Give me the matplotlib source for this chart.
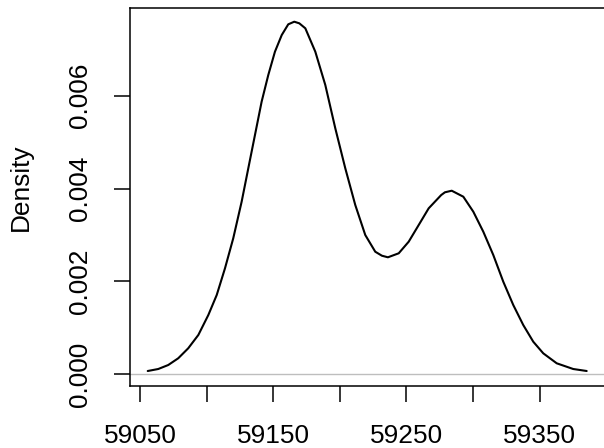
import matplotlib
matplotlib.use("Agg")
import matplotlib.pyplot as plt

# Density curve points
x_vals = [59055.8, 59063.7, 59071.2, 59078.7, 59086.2, 59093.8, 59101.3, 59107.6,
          59113.8, 59120.0, 59126.3, 59131.3, 59136.3, 59141.3, 59146.3, 59151.3,
          59156.4, 59161.3, 59165.8, 59169.6, 59174.1, 59181.6, 59189.1, 59196.6,
          59204.1, 59211.6, 59219.1, 59226.6, 59231.6, 59236.1, 59244.2, 59251.7,
          59259.2, 59266.7, 59276.1, 59278.9, 59284.0, 59292.7, 59300.2, 59307.7,
          59315.2, 59322.7, 59330.2, 59337.7, 59345.2, 59352.7, 59362.8, 59375.2,
          59385.3]
density = [0.000071, 0.000114, 0.000200, 0.000345, 0.000560, 0.000847, 0.001277, 0.001708,
           0.002283, 0.002929, 0.003717, 0.004437, 0.005154, 0.005871, 0.006446, 0.006948,
           0.007307, 0.007538, 0.007594, 0.007559, 0.007452, 0.006948, 0.006231, 0.005298,
           0.004437, 0.003646, 0.003000, 0.002640, 0.002554, 0.002520, 0.002606, 0.002856,
           0.003215, 0.003575, 0.003861, 0.003920, 0.003954, 0.003825, 0.003502, 0.003071,
           0.002569, 0.001994, 0.001492, 0.001061, 0.000702, 0.000452, 0.000237, 0.000114,
           0.000071]

x_ticks = [59050, 59100, 59150, 59200, 59250, 59300, 59350]
x_tick_labels = ["59050", "", "59150", "", "59250", "", "59350"]
y_ticks = [0.000, 0.002, 0.004, 0.006]
y_tick_labels = ["0.000", "0.002", "0.004", "0.006"]

plt.rcParams['font.family'] = ['Liberation Sans', 'DejaVu Sans']

W, H = 604, 448
fig = plt.figure(figsize=(W / 100, H / 100), dpi=100)
left_px, right_px, top_px, bottom_px = 130, 605.6, 7.5, 386
ax = fig.add_axes([left_px / W, 1 - bottom_px / H,
                   (right_px - left_px) / W, (bottom_px - top_px) / H])

ax.axhline(0, color="#BEBEBE", lw=1.0, zorder=1)
ax.plot(x_vals, density, color="black", lw=1.5, zorder=2,
        solid_joinstyle="round", solid_capstyle="round")

ax.set_xlim(59042.5, 59399.5)
ax.set_ylim(-0.000252, 0.0079)

ax.set_xticks(x_ticks)
ax.set_xticklabels(x_tick_labels)
ax.set_yticks(y_ticks)
ax.set_yticklabels(y_tick_labels, rotation=90, va="center")

for s in ax.spines.values():
    s.set_linewidth(1.1)
    s.set_color("black")

ax.tick_params(axis="both", direction="out", length=11.5, width=1.1,
               labelsize=18.9, colors="black")
ax.tick_params(axis="x", pad=16)
ax.tick_params(axis="y", pad=16)

ax.set_ylabel("Density", fontsize=18.9, labelpad=25)
ax.yaxis.label.set_y(0.525)

fig.savefig("out.png", dpi=100)
